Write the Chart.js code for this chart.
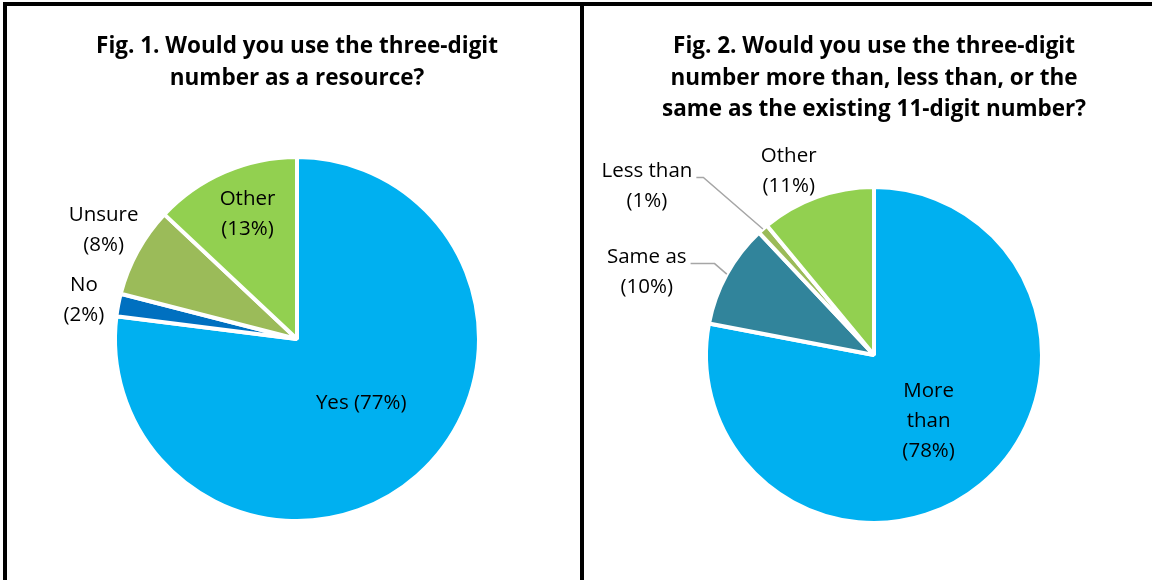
<!DOCTYPE html>
<html lang="en">
<head>
<meta charset="UTF-8">
<script src="https://cdn.jsdelivr.net/npm/chart.js@4.4.0/dist/chart.umd.min.js"></script>
<title>Three-digit number survey</title>
<style>
  html, body { margin: 0; padding: 0; background: #fff; }
  body { width: 1152px; height: 580px; position: relative; overflow: hidden; }
  canvas { position: absolute; top: 0; }
  #fig1 { left: 0; }
  #fig2 { left: 582px; }
  .bar { position: absolute; background: #000; }
</style>
</head>
<body>
<canvas id="fig1" width="582" height="580"></canvas>
<canvas id="fig2" width="570" height="580"></canvas>
<div class="bar" style="left:3px;top:2px;width:1149px;height:4px"></div>
<div class="bar" style="left:3px;top:2px;width:4px;height:578px"></div>
<div class="bar" style="left:580px;top:2px;width:4px;height:578px"></div>
<script>
// fig 1 data
var fig1Title = ['Fig. 1. Would you use the three-digit', 'number as a resource?'];
var fig1Cats = ['Yes', 'No', 'Unsure', 'Other'];
var fig1Values = [77, 2, 8, 13];
var fig1Colors = ['#00B0F0', '#0070C0', '#9BBB59', '#92D050'];

// fig 2 data
var fig2Title = ['Fig. 2. Would you use the three-digit', 'number more than, less than, or the', 'same as the existing 11-digit number?'];
var fig2Cats = ['More than', 'Same as', 'Less than', 'Other'];
var fig2Values = [78, 10, 1, 11];
var fig2Colors = ['#00B0F0', '#31849B', '#9BBB59', '#92D050'];

// how each label text is broken into lines
function labelLines(cats, values, breaks) {
  return cats.map(function(c, i) {
    var b = breaks[i];
    if (b === 'inline') return [c + ' (' + values[i] + '%)'];
    var parts = b ? b : [c];
    return parts.concat(['(' + values[i] + '%)']);
  });
}
var fig1Lines = labelLines(fig1Cats, fig1Values, ['inline', null, null, null]);
var fig2Lines = labelLines(fig2Cats, fig2Values, [['More', 'than'], null, null, null]);

// label placement: fraction of radius along the mid angle, plus nudge
var fig1Place = [
  {k: 0.5, dx: 4, dy: -4},
  {k: 1.17, dx: -4, dy: 1},
  {k: 1.2, dx: -2, dy: -4},
  {k: 0.74, dx: 4, dy: -1}
];
var fig2Place = [
  {k: 0.51, dx: 0, dy: 0},
  {k: 1.0, dx: -80, dy: -2, lead: 24},
  {k: 1.0, dx: -116, dy: -43, lead: 7},
  {k: 1.2, dx: -17, dy: 6}
];

var FONT = '"Open Sans", Lato, sans-serif';
var LH = 30;

var panelText = {
  id: 'panelText',
  afterDatasetsDraw: function(chart, args, opts) {
    var ctx = chart.ctx;
    var meta = chart.getDatasetMeta(0);
    ctx.save();
    ctx.fillStyle = '#000';
    ctx.textAlign = 'center';
    ctx.textBaseline = 'middle';

    // title
    ctx.font = 'bold 22.5px ' + FONT;
    var cx0 = meta.data[0].x;
    opts.title.forEach(function(t, j) {
      ctx.fillText(t, cx0, 47 + j * 31.5);
    });

    ctx.font = '20.5px ' + FONT;
    meta.data.forEach(function(arc, i) {
      var p = opts.place[i];
      var lines = opts.lines[i];
      var mid = (arc.startAngle + arc.endAngle) / 2;
      var r = arc.outerRadius;
      var x = arc.x + Math.cos(mid) * r * p.k + p.dx;
      var y = arc.y + Math.sin(mid) * r * p.k + p.dy;
      var top = y - (lines.length - 1) * LH / 2;
      ctx.fillStyle = '#000';
      lines.forEach(function(t, j) {
        ctx.fillText(t, x, top + j * LH);
      });
      if (p.lead) {
        var w = 0;
        lines.forEach(function(t) { w = Math.max(w, ctx.measureText(t).width); });
        var ex = arc.x + Math.cos(mid) * r;
        var ey = arc.y + Math.sin(mid) * r;
        var lx = x + w / 2 + 4;
        var ly = top + 6.5;
        ctx.strokeStyle = '#A6A6A6';
        ctx.lineWidth = 1.5;
        ctx.beginPath();
        ctx.moveTo(lx, ly);
        ctx.lineTo(lx + p.lead, ly);
        ctx.lineTo(ex, ey);
        ctx.stroke();
      }
    });
    ctx.restore();
  }
};

function makePie(id, cats, values, colors, pad, title, lines, place) {
  return new Chart(document.getElementById(id), {
    type: 'pie',
    data: {
      labels: cats,
      datasets: [{
        data: values,
        backgroundColor: colors,
        borderColor: '#fff',
        borderWidth: 4
      }]
    },
    options: {
      responsive: false,
      animation: false,
      layout: { padding: pad },
      plugins: {
        legend: { display: false },
        tooltip: { enabled: false },
        panelText: { title: title, lines: lines, place: place }
      }
    },
    plugins: [panelText]
  });
}

makePie('fig1', fig1Cats, fig1Values, fig1Colors,
  {top: 155, bottom: 57, left: 113, right: 101}, fig1Title, fig1Lines, fig1Place);
makePie('fig2', fig2Cats, fig2Values, fig2Colors,
  {top: 185, bottom: 55, left: 122, right: 108}, fig2Title, fig2Lines, fig2Place);
</script>
</body>
</html>
